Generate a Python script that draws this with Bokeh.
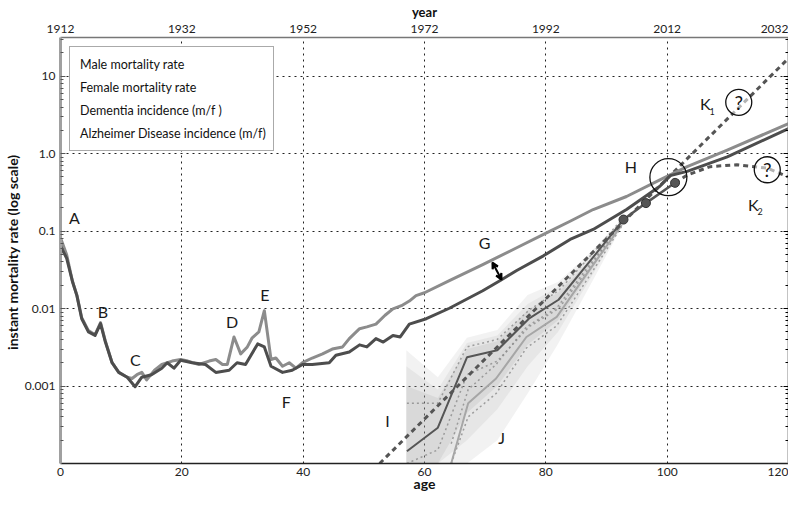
from bokeh.plotting import figure
from bokeh.models import (Range1d, LinearAxis, LogAxis, FixedTicker, Legend, LegendItem,
                          Label, Arrow, VeeHead)
from bokeh.embed import file_html
from bokeh.resources import INLINE

# ---------------- data ----------------
age_ticks = [0, 20, 40, 60, 80, 100, 120]
year_labels = ["1912", "1932", "1952", "1972", "1992", "2012", "2032"]
rate_ticks = [0.001, 0.01, 0.1, 1.0, 10.0]
rate_labels = ["0.001", "0.01", "0.1", "1.0", "10"]

male_age = [0, 1, 2, 2.7, 3.5, 4.6, 5.7, 6.6, 7.4, 8.5, 9.6, 11, 11.8, 12.6, 13.4, 14.2, 15.5,
            16.7, 18.4, 19.8, 21, 22.8, 24.5, 25.6, 26.7, 27.5, 28.6, 29.7, 30.8, 31.6, 32.7,
            33.6, 34.7, 35.5, 36.6, 37.7, 38.8, 39.9, 41.5, 43.2, 44.8, 46.5, 47.6, 49.3, 50.5,
            52, 53.5, 54.8, 56.2, 57.5, 58.6, 60, 64.1, 69.6, 75.2, 80.7, 84, 87.8, 93.3, 98.8,
            103.3, 109.9, 120]
male_rate = [0.082, 0.05, 0.022, 0.015, 0.0076, 0.0052, 0.0046, 0.0066, 0.0038, 0.002, 0.0015,
             0.0013, 0.00125, 0.0014, 0.0015, 0.0012, 0.0016, 0.0019, 0.0021, 0.0022, 0.0021,
             0.0019, 0.0021, 0.0022, 0.0019, 0.0019, 0.0043, 0.0026, 0.0032, 0.0042, 0.005,
             0.0094, 0.0022, 0.0023, 0.0018, 0.002, 0.0017, 0.002, 0.0023, 0.0026, 0.003, 0.0032,
             0.0041, 0.0055, 0.0058, 0.0063, 0.0082, 0.0099, 0.0109, 0.0125, 0.0147, 0.016,
             0.0229, 0.037, 0.061, 0.1, 0.134, 0.19, 0.28, 0.46, 0.68, 1.11, 2.44]

female_age = [0, 1, 2, 2.7, 3.5, 4.6, 5.7, 6.6, 7.4, 8.5, 9.6, 11, 12.3, 13.4, 15, 16.7, 17.6,
              18.7, 19.8, 21.7, 23.9, 25.6, 27.8, 29.1, 30.5, 32.5, 33.6, 34.7, 36.6, 38.2,
              39.9, 41.5, 44.3, 45.4, 47.6, 49.3, 50.5, 52, 53.2, 54.8, 56, 57.5, 60.3, 64.1,
              69.6, 72.7, 75.2, 79.6, 84, 87.8, 93.3, 98.8, 100.5, 103.3, 109.9, 120]
female_rate = [0.064, 0.045, 0.022, 0.0147, 0.0074, 0.005, 0.0045, 0.0064, 0.0037, 0.002,
               0.0015, 0.0013, 0.00098, 0.0013, 0.0014, 0.0017, 0.002, 0.0017, 0.00215, 0.002,
               0.0019, 0.0015, 0.0016, 0.002, 0.0019, 0.0035, 0.0032, 0.0018, 0.0015, 0.0016,
               0.0019, 0.0019, 0.002, 0.0025, 0.00275, 0.0034, 0.0032, 0.0041, 0.0037, 0.0045,
               0.0043, 0.0063, 0.0074, 0.0101, 0.017, 0.0236, 0.031, 0.048, 0.078, 0.105, 0.19,
               0.38, 0.52, 0.59, 0.91, 2.1]

dem_age = [57.1, 62.2, 67.0, 72.0, 77.2, 82.1, 86.7, 92.8]
dem_rate = [0.000144, 0.00029, 0.00235, 0.0029, 0.0074, 0.013, 0.036, 0.141]
dem_hi = [0.0006, 0.0006, 0.0032, 0.0040, 0.0095, 0.017, 0.042, 0.15]
dem_lo = [0.0001, 0.00015, 0.0014, 0.0021, 0.0058, 0.010, 0.030, 0.135]

ad_age = [64.4, 67.2, 71.8, 76.8, 81.8, 87.0, 92.5]
ad_rate = [0.0001, 0.0006, 0.00125, 0.0043, 0.0078, 0.03, 0.12]
ad_hi = [0.00018, 0.0009, 0.0019, 0.0058, 0.0102, 0.035, 0.125]
ad_lo = [0.0001, 0.0004, 0.0008, 0.0031, 0.0060, 0.025, 0.115]

band_age = [57.0, 62.2, 67.0, 72.0, 77.0, 82.0, 87.0, 92.8]
band_outer_hi = [0.0029, 0.0013, 0.0042, 0.0053, 0.0150, 0.0220, 0.050, 0.150]
band_outer_lo = [0.0001, 0.0001, 0.0001, 0.0002, 0.0008, 0.0035, 0.018, 0.125]
band_mid_hi = [0.0018, 0.0009, 0.0036, 0.0045, 0.0115, 0.0190, 0.045, 0.147]
band_mid_lo = [0.0001, 0.0001, 0.0002, 0.0005, 0.0018, 0.0050, 0.022, 0.128]
band_inner_hi = [0.0010, 0.0007, 0.0030, 0.0038, 0.0095, 0.0160, 0.040, 0.144]
band_inner_lo = [0.0001, 0.0001, 0.00045, 0.0010, 0.0034, 0.0070, 0.027, 0.131]

proj_age = [92.8, 96.5, 101.3]
proj_rate = [0.141, 0.23, 0.42]

k1_age = [52.6, 120]
k1_rate = [0.0001, 17.0]

k2_age = [101.3, 103.3, 107.1, 111.5, 116.5, 120]
k2_rate = [0.42, 0.53, 0.68, 0.72, 0.65, 0.50]

ring_age = [100.2]
ring_rate = [0.497]
q_age = [111.8, 116.5]
q_rate = [4.6, 0.62]

legend_labels = ["Male mortality rate", "Female mortality rate",
                 "Dementia incidence (m/f )", "Alzheimer Disease incidence (m/f)"]

FONT = "Lato"
DARK = "#4d4d4d"
LIGHT = "#8c8c8c"

p = figure(width=788, height=494, x_range=Range1d(0, 120), y_range=Range1d(1e-4, 31.6),
           y_axis_type="log", output_backend="svg", toolbar_location=None,
           min_border_left=54, min_border_right=0, min_border_top=32, min_border_bottom=30,
           background_fill_color="white", border_fill_color="white")
p.outline_line_color = None

bottom = p.below[0]
left = p.left[0]

# axes
bottom.ticker = FixedTicker(ticks=age_ticks, minor_ticks=[])
bottom.axis_label = "age"
bottom.major_tick_out = 0
bottom.major_tick_in = 0
bottom.minor_tick_out = 0
bottom.axis_line_color = "#222222"
bottom.axis_line_width = 1.5
bottom.major_label_standoff = 4
bottom.axis_label_standoff = -4

minor = []
for d in [1e-4, 1e-3, 1e-2, 1e-1, 1.0, 10.0]:
    for m in range(2, 10):
        minor.append(d * m)
left.ticker = FixedTicker(ticks=rate_ticks, minor_ticks=minor)
left.major_label_overrides = {t: l for t, l in zip(rate_ticks, rate_labels)}
left.axis_label = "instant mortality rate (log  scale)"
left.major_tick_out = 0
left.major_tick_in = 5
left.minor_tick_out = 0
left.minor_tick_in = 3
left.axis_line_color = "#a0a0a0"
left.axis_line_width = 3
left.major_tick_line_color = "#555555"
left.minor_tick_line_color = "#555555"
left.major_label_standoff = 5
left.axis_label_standoff = 1

top = LinearAxis(ticker=FixedTicker(ticks=age_ticks, minor_ticks=[]),
                 major_label_overrides={a: y for a, y in zip(age_ticks, year_labels)},
                 axis_label="year")
top.major_tick_out = 0
top.major_tick_in = 0
top.minor_tick_out = 0
top.axis_line_color = "#777777"
top.axis_line_width = 1.5
top.major_label_standoff = 5
top.axis_label_standoff = 2
p.add_layout(top, "above")

right = LogAxis(ticker=FixedTicker(ticks=rate_ticks, minor_ticks=minor),
                major_label_overrides={t: "" for t in rate_ticks})
right.major_label_text_font_size = "1px"
right.major_tick_out = 0
right.major_tick_in = 5
right.minor_tick_out = 0
right.minor_tick_in = 3
right.axis_line_color = "#888888"
right.axis_line_width = 2
right.major_label_standoff = 0
p.add_layout(right, "right")

for ax in [bottom, left, top]:
    ax.major_label_text_font = FONT
    ax.major_label_text_font_size = "12px"
    ax.major_label_text_color = "#222222"
    ax.axis_label_text_font = FONT
    ax.axis_label_text_font_style = "bold"
    ax.axis_label_text_color = "#111111"
bottom.axis_label_text_font_size = "14px"
left.axis_label_text_font_size = "14px"
top.axis_label_text_font_size = "13px"

# grid
for g in [p.xgrid[0], p.ygrid[0]]:
    g.grid_line_color = "#222222"
    g.grid_line_dash = "2 4"
    g.grid_line_width = 1
p.xgrid.ticker = FixedTicker(ticks=[20, 40, 60, 80, 100])
p.ygrid.ticker = FixedTicker(ticks=rate_ticks)

# shaded incidence band
p.varea(x=band_age, y1=band_outer_lo, y2=band_outer_hi, fill_color="#a0a0a0", fill_alpha=0.14)
p.varea(x=band_age, y1=band_mid_lo, y2=band_mid_hi, fill_color="#a0a0a0", fill_alpha=0.14)
p.varea(x=band_age, y1=band_inner_lo, y2=band_inner_hi, fill_color="#a0a0a0", fill_alpha=0.18)

# confidence dotted lines
for ys, xs in [(dem_hi, dem_age), (dem_lo, dem_age), (ad_hi, ad_age), (ad_lo, ad_age)]:
    p.line(xs, ys, line_color="#8a8a8a", line_width=1.5, line_dash="2 3", line_alpha=0.8)

p.line(ad_age, ad_rate, line_color="#a6a6a6", line_width=2)
p.line(dem_age, dem_rate, line_color="#555555", line_width=2)

# K1 projection
p.line(k1_age, k1_rate, line_color="#555555", line_width=3, line_dash="5 4")

# mortality curves
p.line(male_age, male_rate, line_color=LIGHT, line_width=3, line_join="round")
p.line(female_age, female_rate, line_color=DARK, line_width=3, line_join="round")

# projected incidence points and K2
p.line(proj_age, proj_rate, line_color="#555555", line_width=2.5)
p.line(k2_age, k2_rate, line_color="#555555", line_width=3, line_dash="5 4")
p.scatter(proj_age, proj_rate, marker="circle", size=9, fill_color="#555555", line_color="#333333")

# ring annotations
p.scatter(ring_age, ring_rate, marker="circle", size=37, fill_color=None,
          line_color="#111111", line_width=1.3)
p.scatter(q_age, q_rate, marker="circle", size=26, fill_color="white", fill_alpha=0.55,
          line_color="#111111", line_width=1.3)
for a, r in zip(q_age, q_rate):
    p.add_layout(Label(x=a, y=r, text="?", text_align="center", text_baseline="middle",
                       text_font=FONT, text_font_size="19px", text_color="#111111"))

# letter labels
letters = [("A", 2.3, 0.152), ("B", 7.0, 0.00916), ("C", 12.35, 0.00222), ("D", 28.3, 0.0068),
           ("E", 33.7, 0.015), ("F", 37.2, 0.00064), ("G", 69.9, 0.0708), ("H", 94.0, 0.68),
           ("K", 106.3, 4.4), ("K", 114.2, 0.22), ("I", 53.9, 0.000356), ("J", 72.7, 0.000217)]
for t, a, r in letters:
    p.add_layout(Label(x=a, y=r, text=t, text_align="center", text_baseline="middle",
                       text_font=FONT, text_font_size="16px", text_color="#1a1a1a"))
for t, a, r in [("1", 107.4, 3.5), ("2", 115.3, 0.18)]:
    p.add_layout(Label(x=a, y=r, text=t, text_align="center", text_baseline="middle",
                       text_font=FONT, text_font_size="9px", text_color="#1a1a1a"))

# G double arrow
p.add_layout(Arrow(x_start=71.2, y_start=0.0393, x_end=72.7, y_end=0.0236,
                   line_color="black", line_width=2,
                   start=VeeHead(size=6, line_color="black", line_width=2),
                   end=VeeHead(size=6, line_color="black", line_width=2)))

# legend: text-only entries (glyph-less, as in the reference)
dummies = [p.line(x=[], y=[], line_alpha=0) for _ in legend_labels]
legend = Legend(items=[LegendItem(label=l, renderers=[r]) for l, r in zip(legend_labels, dummies)],
                location="top_left")
legend.margin = 9
legend.padding = 7
legend.spacing = 3
legend.glyph_width = 1
legend.glyph_height = 20
legend.label_height = 20
legend.label_standoff = 2
legend.label_text_font = FONT
legend.label_text_font_size = "12.5px"
legend.label_text_color = "#111111"
legend.border_line_color = "#555555"
legend.border_line_width = 1
legend.background_fill_alpha = 1
p.add_layout(legend)

open("out.html", "w").write(file_html(p, INLINE))
